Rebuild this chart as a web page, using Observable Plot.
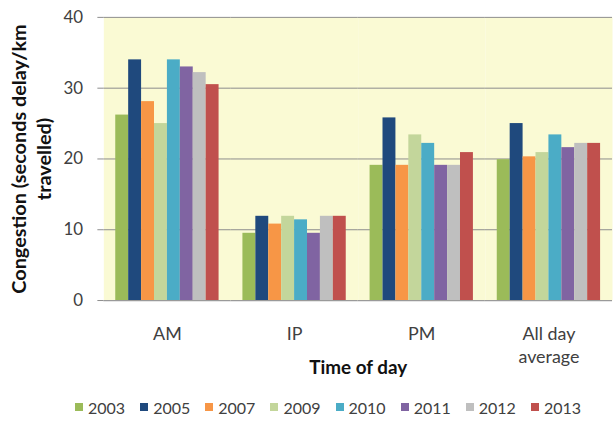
<!DOCTYPE html>
<html>
<head>
<meta charset="utf-8">
<script src="https://cdn.jsdelivr.net/npm/d3@7"></script>
<script src="https://cdn.jsdelivr.net/npm/@observablehq/plot@0.6"></script>
<style>
  html, body { margin: 0; padding: 0; background: #fff; }
  #wrap { width: 613px; height: 421px; overflow: hidden; font-family: Lato, sans-serif; }
  .lg-swatches { font-family: Lato, sans-serif !important; font-size: 16px !important; color: #404040 !important; margin: 10px 0 0 75px !important; }
  .lg-swatches-wrap { min-height: 20px !important; flex-wrap: nowrap !important; }
  .lg-swatches-wrap .lg-swatch { margin-right: 15px !important; }
  .lg-swatch > svg { margin-right: 5px !important; }
</style>
</head>
<body>
<div id="wrap"></div>
<script>
const categories = ["AM", "IP", "PM", "All day\naverage"];
const years = ["2003", "2005", "2007", "2009", "2010", "2011", "2012", "2013"];
const v2003 = [26.2, 9.5, 19.1, 19.9];
const v2005 = [34.0, 11.9, 25.8, 25.0];
const v2007 = [28.1, 10.8, 19.1, 20.3];
const v2009 = [25.0, 11.9, 23.4, 20.9];
const v2010 = [34.0, 11.4, 22.2, 23.4];
const v2011 = [33.0, 9.5, 19.1, 21.6];
const v2012 = [32.2, 11.9, 19.1, 22.2];
const v2013 = [30.5, 11.9, 20.9, 22.2];
const yTicks = [0, 10, 20, 30, 40];
const colors = ["#9BBB59", "#1F497D", "#F79646", "#C3D69B", "#4BACC6", "#8064A2", "#BFBFBF", "#C0504D"];
const yTitle = "Congestion (seconds delay/km\ntravelled)";
const xTitle = "Time of day";

const series = [v2003, v2005, v2007, v2009, v2010, v2011, v2012, v2013];
const data = [];
years.forEach((yr, j) => categories.forEach((c, i) => data.push({time: c, year: yr, value: series[j][i]})));

const chart = Plot.plot({
  width: 617,
  height: 390,
  marginLeft: 103,
  marginRight: 0,
  marginTop: 17,
  marginBottom: 88,
  style: {fontFamily: "Lato, sans-serif", background: "transparent"},
  fx: {domain: categories, padding: 0},
  x: {domain: years, paddingInner: 0, paddingOuter: 0.76, axis: null},
  y: {domain: [0, 40]},
  color: {domain: years, range: colors},
  marks: [
    Plot.frame({fill: "#fafad4", stroke: "none"}),
    Plot.gridY({ticks: yTicks.filter(t => t > 0), stroke: "#8c8c8c", strokeOpacity: 1}),
    Plot.barY(data, {fx: "time", x: "year", y: "value", fill: "year"}),
    Plot.ruleY([0], {stroke: "#9a9a9a", strokeWidth: 1.2}),
    Plot.axisY({ticks: yTicks, tickSize: 6, tickPadding: 15, fontSize: 17, fill: "#404040", stroke: "#8c8c8c", label: null}),
    Plot.axisFx({anchor: "bottom", tickSize: 0, tickPadding: 24, fontSize: 18, lineHeight: 1.25, fill: "#404040", label: null}),
    Plot.axisFx({anchor: "bottom", tickSize: 0, tickFormat: () => "", label: xTitle, labelAnchor: "center", labelOffset: 74, labelArrow: "none", fontSize: 19, fontWeight: "bold", fill: "#111"}),
    Plot.text([yTitle], {fx: () => categories[0], frameAnchor: "left", dx: -74, rotate: -90, lineHeight: 1.25, fontSize: 20, fontWeight: "bold", fill: "#111", textAnchor: "middle", lineAnchor: "middle"})
  ]
});

const wrap = document.getElementById("wrap");
wrap.appendChild(chart);
const legend = chart.legend("color", {swatchSize: 8, className: "lg"});
wrap.appendChild(legend);
</script>
</body>
</html>
